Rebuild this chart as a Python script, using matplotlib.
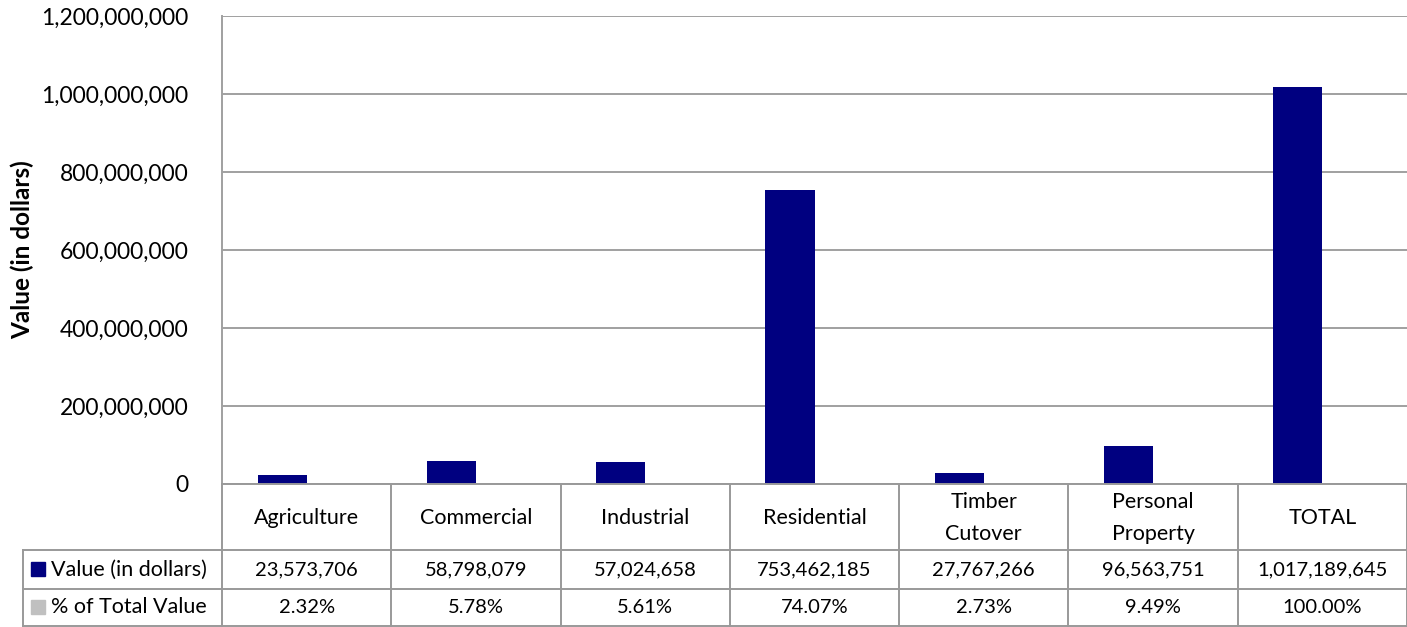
import matplotlib
matplotlib.use('Agg')
import matplotlib.pyplot as plt
from matplotlib.patches import Rectangle
from matplotlib.ticker import FuncFormatter

plt.rcParams['font.family'] = ['Lato', 'DejaVu Sans']

categories = ['Agriculture', 'Commercial', 'Industrial', 'Residential',
              'Timber\nCutover', 'Personal\nProperty', 'TOTAL']
values = [23573706, 58798079, 57024658, 753462185, 27767266, 96563751, 1017189645]
pct = [2.32, 5.78, 5.61, 74.07, 2.73, 9.49, 100.00]
series_names = ['Value (in dollars)', '% of Total Value']
series_colors = ['#000080', '#C0C0C0']
yticks = [0, 200000000, 400000000, 600000000, 800000000, 1000000000, 1200000000]

W, H = 1407, 627
fig = plt.figure(figsize=(W / 100, H / 100), dpi=100)

x0, x1 = 222, 1407
y_top, y_zero = 16, 484
ax = fig.add_axes([x0 / W, (H - y_zero) / H, (x1 - x0) / W, (y_zero - y_top) / H])

n = len(categories)
bw = 0.29
xs = [i + 0.5 for i in range(n)]
ax.bar([x - bw for x in xs], values, width=bw, align='edge', color=series_colors[0], zorder=3)
# percentages share the dollar axis, so they are practically invisible
ax.bar(xs, [p / 100 for p in pct], width=bw, align='edge', color=series_colors[1], zorder=3)

ax.set_xlim(0, n)
ax.set_ylim(0, 1200000000)
ax.set_yticks(yticks)
ax.yaxis.set_major_formatter(FuncFormatter(lambda v, p: f'{int(v):,}'))
ax.tick_params(axis='y', length=0, labelsize=16.5, pad=24)
ax.set_xticks([])
ax.grid(axis='y', color='#A0A0A0', linewidth=1.4, zorder=0)
for s in ['top', 'right', 'bottom']:
    ax.spines[s].set_visible(False)
ax.spines['left'].set_color('#A0A0A0')
ax.spines['left'].set_linewidth(1.4)
ax.set_ylabel('Value (in dollars)', fontsize=17.5, fontweight='bold')
ax.yaxis.set_label_coords(-(x0 - 34) / (x1 - x0), 0.5)

# data table underneath, y measured in pixels from the top of the figure
tab = fig.add_axes([x0 / W, 0, (x1 - x0) / W, (H - y_zero) / H])
tab.set_xlim(0, n)
tab.set_ylim(H, y_zero)
tab.axis('off')

rows = [484, 550, 589, 626]
lc = '#999999'
lw = 1.4
colw = (x1 - x0) / n
left = -(x0 - 23) / colw
tab.plot([0, n], [rows[0], rows[0]], color=lc, lw=lw, clip_on=False)
for r in rows[1:]:
    tab.plot([left, n], [r, r], color=lc, lw=lw, clip_on=False)
for i in range(n + 1):
    tab.plot([i, i], [rows[0], rows[3]], color=lc, lw=lw, clip_on=False)
tab.plot([left, left], [rows[1], rows[3]], color=lc, lw=lw, clip_on=False)

fs = 14.5
for i, c in enumerate(categories):
    tab.text(xs[i], (rows[0] + rows[1]) / 2 + 1, c, ha='center', va='center',
             fontsize=15.5, linespacing=1.75)
    tab.text(xs[i], (rows[1] + rows[2]) / 2, f'{values[i]:,}', ha='center', va='center', fontsize=fs)
    tab.text(xs[i], (rows[2] + rows[3]) / 2, f'{pct[i]:.2f}%', ha='center', va='center', fontsize=fs)

for k, name in enumerate(series_names):
    yc = (rows[k + 1] + rows[k + 2]) / 2
    tab.add_patch(Rectangle(((31 - x0) / colw, yc - 7), 14 / colw, 14,
                            color=series_colors[k], clip_on=False))
    tab.text((51 - x0) / colw, yc, name, ha='left', va='center', fontsize=15.5, clip_on=False)

fig.savefig('out.png', dpi=100)
